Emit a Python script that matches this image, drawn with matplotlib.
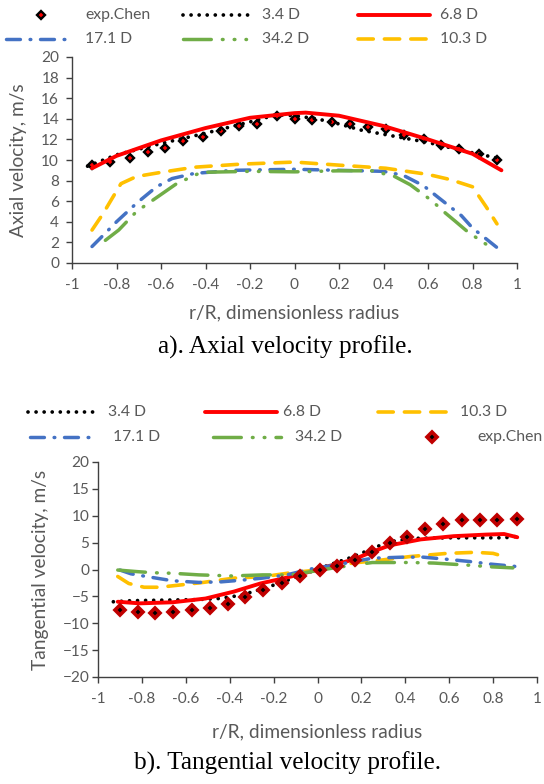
import numpy as np
import matplotlib
matplotlib.use("Agg")
import matplotlib.pyplot as plt
from matplotlib.lines import Line2D

plt.rcParams['font.family'] = ['Lato', 'DejaVu Sans']
plt.rcParams['lines.scale_dashes'] = False

GRAY = '#595959'

# ---- a) axial velocity ----
ax_exp_x = [-0.91, -0.83, -0.74, -0.66, -0.58, -0.50, -0.41, -0.33, -0.25, -0.17, -0.08, 0.0,
            0.08, 0.17, 0.25, 0.33, 0.41, 0.49, 0.58, 0.66, 0.74, 0.83, 0.91]
ax_exp_y = [9.5, 9.8, 10.2, 10.8, 11.2, 11.8, 12.2, 12.8, 13.3, 13.5, 14.3, 14.0,
            13.9, 13.7, 13.5, 13.2, 13.0, 12.4, 12.0, 11.5, 11.1, 10.6, 10.0]

ax_34_x = [-0.93, -0.8, -0.6, -0.4, -0.2, -0.08, 0.0, 0.1, 0.2, 0.3, 0.4, 0.5, 0.6, 0.7, 0.8, 0.91]
ax_34_y = [9.4, 10.5, 11.6, 12.6, 13.7, 14.4, 14.3, 14.0, 13.5, 12.9, 12.5, 12.1, 11.7, 11.2, 10.7, 10.2]

ax_68_x = [-0.91, -0.8, -0.6, -0.4, -0.2, 0.0, 0.05, 0.2, 0.4, 0.6, 0.8, 0.93]
ax_68_y = [9.2, 10.4, 11.9, 13.1, 14.1, 14.55, 14.6, 14.3, 13.3, 12.0, 10.6, 9.0]

ax_103_x = [-0.91, -0.86, -0.83, -0.78, -0.71, -0.6, -0.45, -0.24, 0.0, 0.2, 0.41, 0.6, 0.7, 0.8, 0.86, 0.91]
ax_103_y = [3.2, 4.8, 5.9, 7.7, 8.4, 8.8, 9.3, 9.6, 9.8, 9.5, 9.2, 8.6, 8.1, 7.4, 5.5, 3.8]

ax_171_x = [-0.91, -0.85, -0.8, -0.71, -0.62, -0.55, -0.45, -0.27, 0.0, 0.2, 0.4, 0.49, 0.58, 0.65, 0.75, 0.8, 0.91]
ax_171_y = [1.6, 2.9, 4.0, 5.8, 7.4, 8.2, 8.7, 9.0, 9.1, 9.0, 8.9, 8.5, 7.5, 6.3, 4.6, 3.4, 1.5]

ax_342_x = [-0.85, -0.79, -0.71, -0.65, -0.59, -0.53, -0.42, -0.2, 0.0, 0.2, 0.35, 0.45, 0.52, 0.62, 0.67, 0.72, 0.78, 0.89]
ax_342_y = [2.2, 3.2, 5.0, 5.9, 6.8, 7.7, 8.8, 8.9, 8.85, 8.95, 8.95, 8.4, 7.6, 6.0, 5.0, 4.1, 3.0, 1.4]

# ---- b) tangential velocity ----
tg_exp_x = [-0.90, -0.82, -0.74, -0.66, -0.57, -0.49, -0.41, -0.33, -0.25, -0.16, -0.08, 0.01,
            0.09, 0.17, 0.25, 0.33, 0.41, 0.49, 0.57, 0.66, 0.74, 0.82, 0.91]
tg_exp_y = [-7.5, -7.85, -8.1, -7.85, -7.5, -7.2, -6.4, -5.2, -3.9, -2.6, -1.3, -0.1,
            0.7, 1.8, 3.3, 5.0, 6.1, 7.6, 8.4, 9.2, 9.2, 9.2, 9.4]

tg_34_x = [-0.93, -0.85, -0.7, -0.55, -0.45, -0.35, -0.25, -0.15, -0.05, 0.05, 0.15, 0.21,
           0.28, 0.35, 0.45, 0.6, 0.75, 0.85, 0.92]
tg_34_y = [-6.0, -5.8, -5.7, -5.6, -5.4, -4.8, -3.6, -2.2, -0.7, 0.8, 2.2, 3.2,
           4.4, 5.3, 5.8, 5.9, 5.9, 5.9, 6.2]

tg_68_x = [-0.91, -0.81, -0.66, -0.51, -0.38, -0.26, -0.15, -0.06, 0.01, 0.16, 0.25, 0.33,
           0.47, 0.62, 0.77, 0.85, 0.91]
tg_68_y = [-6.0, -6.3, -6.1, -5.4, -4.1, -2.6, -1.6, -0.7, 0.2, 1.8, 3.3, 4.5,
           5.6, 6.2, 6.5, 6.6, 6.0]

tg_103_x = [-0.91, -0.86, -0.79, -0.72, -0.63, -0.52, -0.38, -0.24, -0.12, 0.0, 0.16, 0.28,
            0.42, 0.59, 0.72, 0.8, 0.86]
tg_103_y = [-1.3, -2.6, -3.3, -3.3, -2.9, -2.4, -1.6, -1.3, -0.6, -0.1, 1.2, 1.7,
            2.4, 3.0, 3.2, 3.0, 2.3]

tg_171_x = [-0.9, -0.85, -0.78, -0.66, -0.54, -0.44, -0.35, -0.25, -0.14, -0.03, 0.09, 0.25,
            0.39, 0.48, 0.59, 0.69, 0.79, 0.92]
tg_171_y = [-0.1, -0.8, -1.3, -2.1, -2.4, -2.3, -2.0, -1.6, -1.0, 0.1, 0.9, 2.1,
            2.3, 2.3, 1.9, 1.5, 1.0, 0.5]

tg_342_x = [-0.91, -0.82, -0.75, -0.66, -0.54, -0.39, -0.25, -0.12, 0.06, 0.16, 0.25, 0.33,
            0.42, 0.53, 0.61, 0.69, 0.79, 0.89]
tg_342_y = [-0.1, -0.4, -0.6, -0.7, -1.0, -1.2, -1.0, -1.0, 0.2, 0.8, 1.3, 1.3,
            1.3, 1.2, 1.0, 0.8, 0.5, 0.3]

x_ticks = [-1, -0.8, -0.6, -0.4, -0.2, 0, 0.2, 0.4, 0.6, 0.8, 1]
x_tick_labels = ['-1', '-0.8', '-0.6', '-0.4', '-0.2', '0', '0.2', '0.4', '0.6', '0.8', '1']

# line styles
sty = {
    '3.4 D': dict(color='black', lw=2.7, dashes=(0.01, 5.8), dash_capstyle='round'),
    '6.8 D': dict(color='#FF0000', lw=2.8, solid_capstyle='round'),
    '10.3 D': dict(color='#FFC000', lw=2.6, dashes=(11, 8), dash_capstyle='round'),
    '17.1 D': dict(color='#4472C4', lw=2.5, dashes=(10, 7, 0.5, 7), dash_capstyle='round'),
    '34.2 D': dict(color='#70AD47', lw=2.5, dashes=(20, 8, 0.5, 8, 0.5, 8), dash_capstyle='round'),
}
exp_top = dict(marker='D', ms=4.5, mfc='#FF0000', mec='black', mew=1.7)
exp_bot = dict(marker='D', ms=5.3, mfc='black', mec='#C00000', mew=2.6)

W, H = 544, 784
fig = plt.figure(figsize=(W / 100, H / 100), dpi=100)
renderer = fig.canvas.get_renderer()


def frac(x, y):
    return x / W, 1 - y / H


def size_for(text, width_px, family=None):
    # font size that gives the text the width seen in the picture
    kw = {} if family is None else {'family': family}
    t = fig.text(0, 0, text, fontsize=10, **kw)
    w = t.get_window_extent(renderer=renderer).width
    t.remove()
    return 10 * width_px / w


tick_fs = size_for('-0.8', 27)
label_fs = size_for('r/R, dimensionless radius', 211)
legend_fs = size_for('exp.Chen', 65)
caption_fs = size_for('a). Axial velocity profile.', 255, 'Liberation Serif')


def style_axes(ax, ylim, yticks, ylabel, ylab_x, xlab_y, ypad):
    ax.set_xlim(-1, 1)
    ax.set_ylim(*ylim)
    ax.set_xticks(x_ticks)
    ax.set_xticklabels(x_tick_labels)
    ax.set_yticks(yticks)
    for s in ['top', 'right']:
        ax.spines[s].set_visible(False)
    for s in ['left', 'bottom']:
        ax.spines[s].set_color('#404040')
        ax.spines[s].set_linewidth(1.0)
    ax.tick_params(direction='out', length=4.3, width=1, color='#404040',
                   labelsize=tick_fs, labelcolor=GRAY)
    ax.tick_params(axis='x', pad=6.5)
    ax.tick_params(axis='y', pad=ypad)
    ax.set_ylabel(ylabel, color=GRAY, fontsize=label_fs, va='center')
    ax.set_xlabel('r/R, dimensionless radius', color=GRAY, fontsize=label_fs, va='center')
    ax.yaxis.set_label_coords(ylab_x, 0.5)
    ax.xaxis.set_label_coords(0.5, xlab_y)


def legend_entry(x0, x1, y, label, tx, marker=None, **kw):
    fx0, fy = frac(x0, y)
    fx1, _ = frac(x1, y)
    if marker is None:
        fig.add_artist(Line2D([fx0, fx1], [fy, fy], transform=fig.transFigure, **kw))
    else:
        fig.add_artist(Line2D([fx0], [fy], transform=fig.transFigure, linestyle='none',
                              marker=marker, **kw))
    ftx, fty = frac(tx, y)
    fig.text(ftx, fty, label, color=GRAY, fontsize=legend_fs, va='center', ha='left')


# ---------- top chart ----------
ax1 = fig.add_axes([72 / W, 1 - 263 / H, 445 / W, 206 / H])
ax1.plot(ax_exp_x, ax_exp_y, linestyle='none', **exp_top)
ax1.plot(ax_34_x, ax_34_y, **sty['3.4 D'])
ax1.plot(ax_68_x, ax_68_y, **sty['6.8 D'])
ax1.plot(ax_171_x, ax_171_y, **sty['17.1 D'])
ax1.plot(ax_342_x, ax_342_y, **sty['34.2 D'])
ax1.plot(ax_103_x, ax_103_y, **sty['10.3 D'])
style_axes(ax1, (0, 20), np.arange(0, 21, 2), 'Axial velocity, m/s',
           (19 - 72) / 445, (263 - 313) / 206, 5)

legend_entry(41, 41, 15, 'exp.Chen', 85, **exp_top)
legend_entry(183, 250, 15, '3.4 D', 262, **sty['3.4 D'])
legend_entry(358, 430, 15, '6.8 D', 440, **sty['6.8 D'])
legend_entry(6, 65, 39, '17.1 D', 85, **sty['17.1 D'])
legend_entry(183, 246, 39, '34.2 D', 262, **sty['34.2 D'])
legend_entry(358, 430, 39, '10.3 D', 440, **sty['10.3 D'])

fig.text(285 / W, 1 - 347 / H, 'a). Axial velocity profile.', family='Liberation Serif',
         fontsize=caption_fs, ha='center', va='center', color='black')

# ---------- bottom chart ----------
ax2 = fig.add_axes([98 / W, 1 - 677 / H, 439 / W, 215 / H])
ax2.plot(tg_34_x, tg_34_y, **sty['3.4 D'])
ax2.plot(tg_68_x, tg_68_y, **sty['6.8 D'])
ax2.plot(tg_103_x, tg_103_y, **sty['10.3 D'])
ax2.plot(tg_171_x, tg_171_y, **sty['17.1 D'])
ax2.plot(tg_342_x, tg_342_y, **sty['34.2 D'])
ax2.plot(tg_exp_x, tg_exp_y, linestyle='none', **exp_bot)
style_axes(ax2, (-20, 20), np.arange(-20, 21, 5), 'Tangential velocity, m/s',
           (41 - 98) / 439, (677 - 732) / 215, 2)

legend_entry(28, 97, 412, '3.4 D', 108, **sty['3.4 D'])
legend_entry(205, 277, 412, '6.8 D', 283, **sty['6.8 D'])
legend_entry(378, 450, 412, '10.3 D', 460, **sty['10.3 D'])
legend_entry(30, 92, 437, '17.1 D', 113, **sty['17.1 D'])
legend_entry(213, 281, 437, '34.2 D', 295, **sty['34.2 D'])
legend_entry(432, 432, 437, 'exp.Chen', 477, **exp_bot)

fig.text(288 / W, 1 - 763 / H, 'b). Tangential velocity profile.', family='Liberation Serif',
         fontsize=caption_fs, ha='center', va='center', color='black')

fig.savefig('out.png', dpi=100)
